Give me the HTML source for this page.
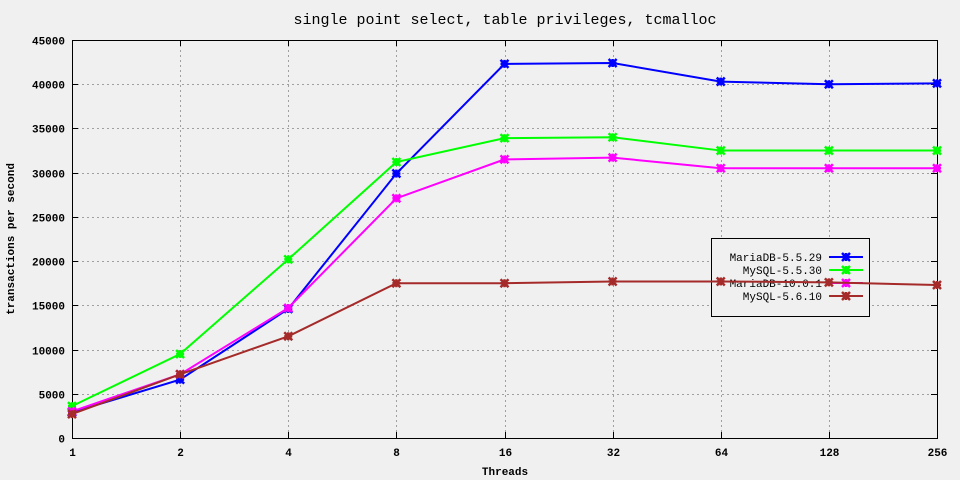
<!DOCTYPE html>
<html><head><meta charset="utf-8"><style>
body{margin:0;background:#f0f0f0}
svg{display:block;font-family:"Liberation Mono","DejaVu Sans Mono",monospace}
</style></head><body>
<svg id="chart" width="960" height="480" xmlns="http://www.w3.org/2000/svg">
<rect width="960" height="480" fill="#f0f0f0"/>
<text x="505" y="24" text-anchor="middle" font-size="15">single point select, table privileges, tcmalloc</text>
<g id="grid"></g><g id="axes"></g>
<text x="505" y="475" text-anchor="middle" font-size="11" font-weight="bold">Threads</text>
<text transform="translate(14,239) rotate(-90)" text-anchor="middle" font-size="11" font-weight="bold">transactions per second</text>
<rect x="711.5" y="238.5" width="158" height="78" fill="#f0f0f0" stroke="#000"/>
<g id="legend"></g>
<g id="series"></g>
</svg>
<script>
const categories=["1","2","4","8","16","32","64","128","256"];
const yTicks=[0,5000,10000,15000,20000,25000,30000,35000,40000,45000];
const seriesNames=["MariaDB-5.5.29","MySQL-5.5.30","MariaDB-10.0.1","MySQL-5.6.10"];
const seriesColors=["#0000ff","#00ff00","#ff00ff","#a52a2a"];
const mariadb5529=[2900,6600,14600,29900,42300,42400,40300,40000,40100];
const mysql5530=[3600,9500,20200,31200,33900,34000,32500,32500,32500];
const mariadb1001=[3000,7200,14700,27100,31500,31700,30500,30500,30500];
const mysql5610=[2700,7200,11500,17500,17500,17700,17700,17600,17300];
const allSeries=[mariadb5529,mysql5530,mariadb1001,mysql5610];
const L=72,R=937,T=40,B=438,YMAX=45000;
const xs=i=>L+(R-L)*i/(categories.length-1);
const ys=v=>B-(B-T)*v/YMAX;
const NS="http://www.w3.org/2000/svg";
function mk(tag,attrs,parent){const e=document.createElementNS(NS,tag);for(const k in attrs)e.setAttribute(k,attrs[k]);parent.appendChild(e);return e;}
const grid=document.getElementById('grid'),axes=document.getElementById('axes');
yTicks.forEach(v=>{const y=Math.round(ys(v))+0.5;
 if(v>0&&v<YMAX){const g=mk('line',{x1:L,x2:R,y1:y,y2:y,stroke:'#a0a0a0','stroke-dasharray':'2,3'},grid);
 
 }
 mk('line',{x1:L,x2:L+6,y1:y,y2:y,stroke:'#000'},axes);
 mk('line',{x1:R-6,x2:R,y1:y,y2:y,stroke:'#000'},axes);
 const t=mk('text',{x:L-7,y:y+4,'text-anchor':'end','font-size':'11','font-weight':'bold'},axes);t.textContent=v;
 
 
});
categories.forEach((c,i)=>{const x=Math.round(xs(i))+0.5;
 if(i>0&&i<categories.length-1){const g=mk('line',{x1:x,x2:x,y1:T,y2:B,stroke:'#a0a0a0','stroke-dasharray':'2,3'},grid);
 
 }
 mk('line',{x1:x,x2:x,y1:B,y2:B-6,stroke:'#000'},axes);
 mk('line',{x1:x,x2:x,y1:T,y2:T+6,stroke:'#000'},axes);
 const t=mk('text',{x:x,y:B+18,'text-anchor':'middle','font-size':'11','font-weight':'bold'},axes);t.textContent=c;
 
 
});
const frame=mk('rect',{x:L+0.5,y:T+0.5,width:R-L,height:B-T,fill:'none',stroke:'#000'},axes);


function marker(x,y,col,parent){const g=mk('g',{stroke:col,'stroke-width':'2.5'},parent);
 mk('line',{x1:x-4,y1:y-4,x2:x+4,y2:y+4},g);mk('line',{x1:x-4,y1:y+4,x2:x+4,y2:y-4},g);
 mk('line',{x1:x-4,y1:y,x2:x+4,y2:y},g);mk('line',{x1:x,y1:y-4,x2:x,y2:y+4},g);return g;}
const lg=document.getElementById('legend');
seriesNames.forEach((n,k)=>{const y=257+k*13;
 const t=mk('text',{x:822,y:y+4,'text-anchor':'end','font-size':'11'},lg);t.textContent=n;
 
 
 mk('line',{x1:829,x2:863,y1:y,y2:y,stroke:seriesColors[k],'stroke-width':'2'},lg);
 marker(846,y,seriesColors[k],lg);
});
const sg=document.getElementById('series');
allSeries.forEach((d,k)=>{
 const pl=mk('polyline',{points:d.map((v,i)=>xs(i)+','+ys(v)).join(' '),fill:'none',stroke:seriesColors[k],'stroke-width':'2'},sg);
 
 
 d.forEach((v,i)=>{const m=marker(xs(i),ys(v),seriesColors[k],sg);
  
  });
});
</script>
</body></html>
